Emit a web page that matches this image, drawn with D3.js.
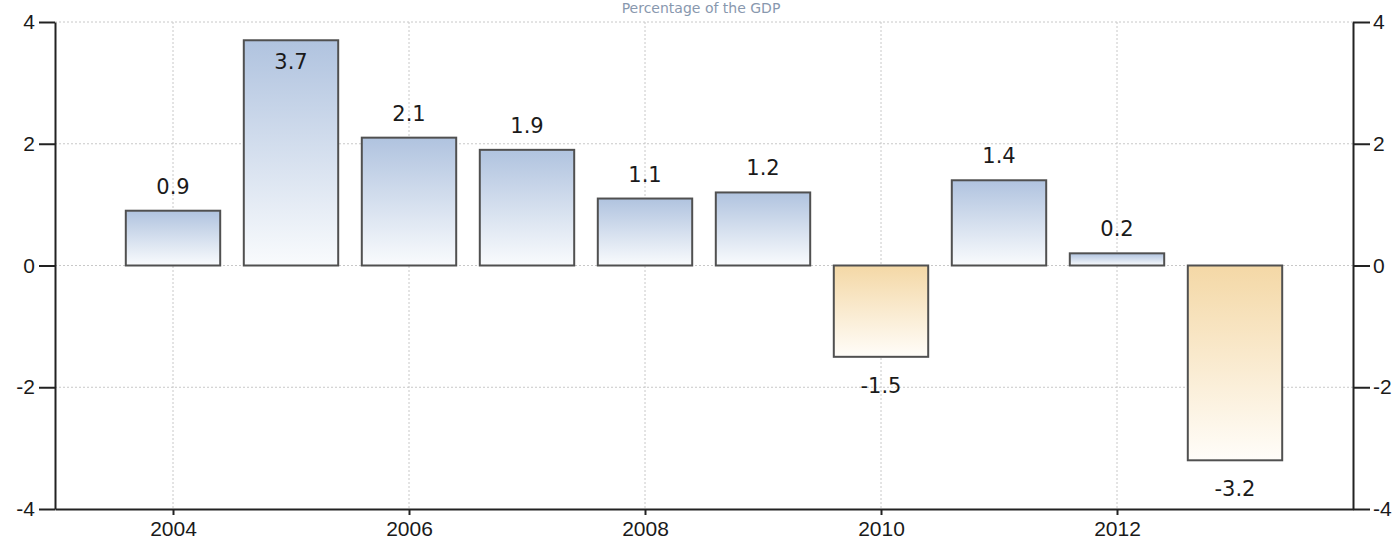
<!DOCTYPE html>
<html>
<head>
<meta charset="utf-8">
<script src="https://cdn.jsdelivr.net/npm/d3@7"></script>
<style>
  body { margin: 0; background: #fff; }
  svg { display: block; font-family: "DejaVu Sans", Verdana, sans-serif; }
  .grid line { stroke: #c8c8c8; stroke-dasharray: 2,2; }
  .axis path, .axis line { stroke: #222; stroke-width: 2px; }
  .axis text { fill: #1a1a1a; font-size: 21px; }
</style>
</head>
<body>
<svg id="bar-chart"></svg>
<script>
// yearly values, % of GDP
let years = [2004, 2005, 2006, 2007, 2008, 2009, 2010, 2011, 2012, 2013]
let values = [0.9, 3.7, 2.1, 1.9, 1.1, 1.2, -1.5, 1.4, 0.2, -3.2]
let yTicks = [-4, -2, 0, 2, 4]
let xTicks = [2004, 2006, 2008, 2010, 2012]
let subtitle = "Percentage of the GDP"

let width = 1395;
let height = 545;
let margin = { top: 22, right: 42, bottom: 36, left: 55 };

let svg = d3.select("#bar-chart")
  .attr("width", width)
  .attr("height", height)

let data = years.map((yr, i) => ({ year: yr, value: values[i] }))

let x = d3.scaleLinear()
  .domain([2003, 2014])
  .range([margin.left, width - margin.right])

let y = d3.scaleLinear()
  .domain([-4, 4])
  .range([height - margin.bottom, margin.top])

let barWidth = (x(2005) - x(2004)) * 0.8

// gradients
let defs = svg.append("defs")
let pos = defs.append("linearGradient")
  .attr("id", "gradPos").attr("x1", 0).attr("y1", 0).attr("x2", 0).attr("y2", 1)
pos.append("stop").attr("offset", "0%").attr("stop-color", "#b0c3df")
pos.append("stop").attr("offset", "100%").attr("stop-color", "#f9fbfd")

let neg = defs.append("linearGradient")
  .attr("id", "gradNeg").attr("x1", 0).attr("y1", 0).attr("x2", 0).attr("y2", 1)
neg.append("stop").attr("offset", "0%").attr("stop-color", "#f4d8a6")
neg.append("stop").attr("offset", "100%").attr("stop-color", "#fffdf9")

// dotted grid
let grid = svg.append("g").attr("class", "grid")
grid.selectAll(".hgrid")
  .data(yTicks.filter(d => d > -4))
  .join("line")
  .attr("x1", margin.left)
  .attr("x2", width - margin.right)
  .attr("y1", d => y(d))
  .attr("y2", d => y(d))

grid.selectAll(".vgrid")
  .data(xTicks)
  .join("line")
  .attr("x1", d => x(d))
  .attr("x2", d => x(d))
  .attr("y1", margin.top)
  .attr("y2", height - margin.bottom)

// bars
svg.append("g")
  .selectAll("rect")
  .data(data)
  .join("rect")
  .attr("x", d => x(d.year) - barWidth / 2)
  .attr("y", d => y(Math.max(0, d.value)))
  .attr("width", barWidth)
  .attr("height", d => Math.abs(y(d.value) - y(0)))
  .style("fill", d => d.value >= 0 ? "url(#gradPos)" : "url(#gradNeg)")
  .style("stroke", "#505050")
  .style("stroke-width", "2px")

// value labels (plain hyphen for negatives, like the original)
svg.append("g")
  .selectAll("text")
  .data(data)
  .join("text")
  .attr("text-anchor", "middle")
  .attr("x", d => x(d.year))
  .attr("y", function(d) {
    if (d.value < 0) return y(d.value) + 36
    let top = y(d.value)
    if (top - 33 < margin.top) return top + 29
    return top - 17
  })
  .style("fill", "#1a1a1a")
  .style("font-size", "21px")
  .text(d => d.value.toFixed(1))

// axes
let yAxisLeft = d3.axisLeft(y)
  .tickValues(yTicks)
  .tickSize(16)
  .tickSizeOuter(0)
  .tickPadding(4)
  .tickFormat(d => String(d))

let yAxisRight = d3.axisRight(y)
  .tickValues(yTicks)
  .tickSize(17)
  .tickSizeOuter(0)
  .tickPadding(3)
  .tickFormat(d => String(d))

let xAxis = d3.axisBottom(x)
  .tickValues(xTicks)
  .tickSize(6)
  .tickSizeOuter(0)
  .tickPadding(6)
  .tickFormat(d => String(d))

svg.append("g")
  .attr("class", "axis")
  .attr("transform", `translate(${margin.left},0)`)
  .call(yAxisLeft)

svg.append("g")
  .attr("class", "axis")
  .attr("transform", `translate(${width - margin.right},0)`)
  .call(yAxisRight)

svg.append("g")
  .attr("class", "axis")
  .attr("transform", `translate(0,${height - margin.bottom})`)
  .call(xAxis)

svg.append("text")
  .attr("text-anchor", "middle")
  .attr("x", 701)
  .attr("y", 13)
  .style("fill", "#8898ae")
  .style("font-size", "14px")
  .text(subtitle)
</script>
</body>
</html>
